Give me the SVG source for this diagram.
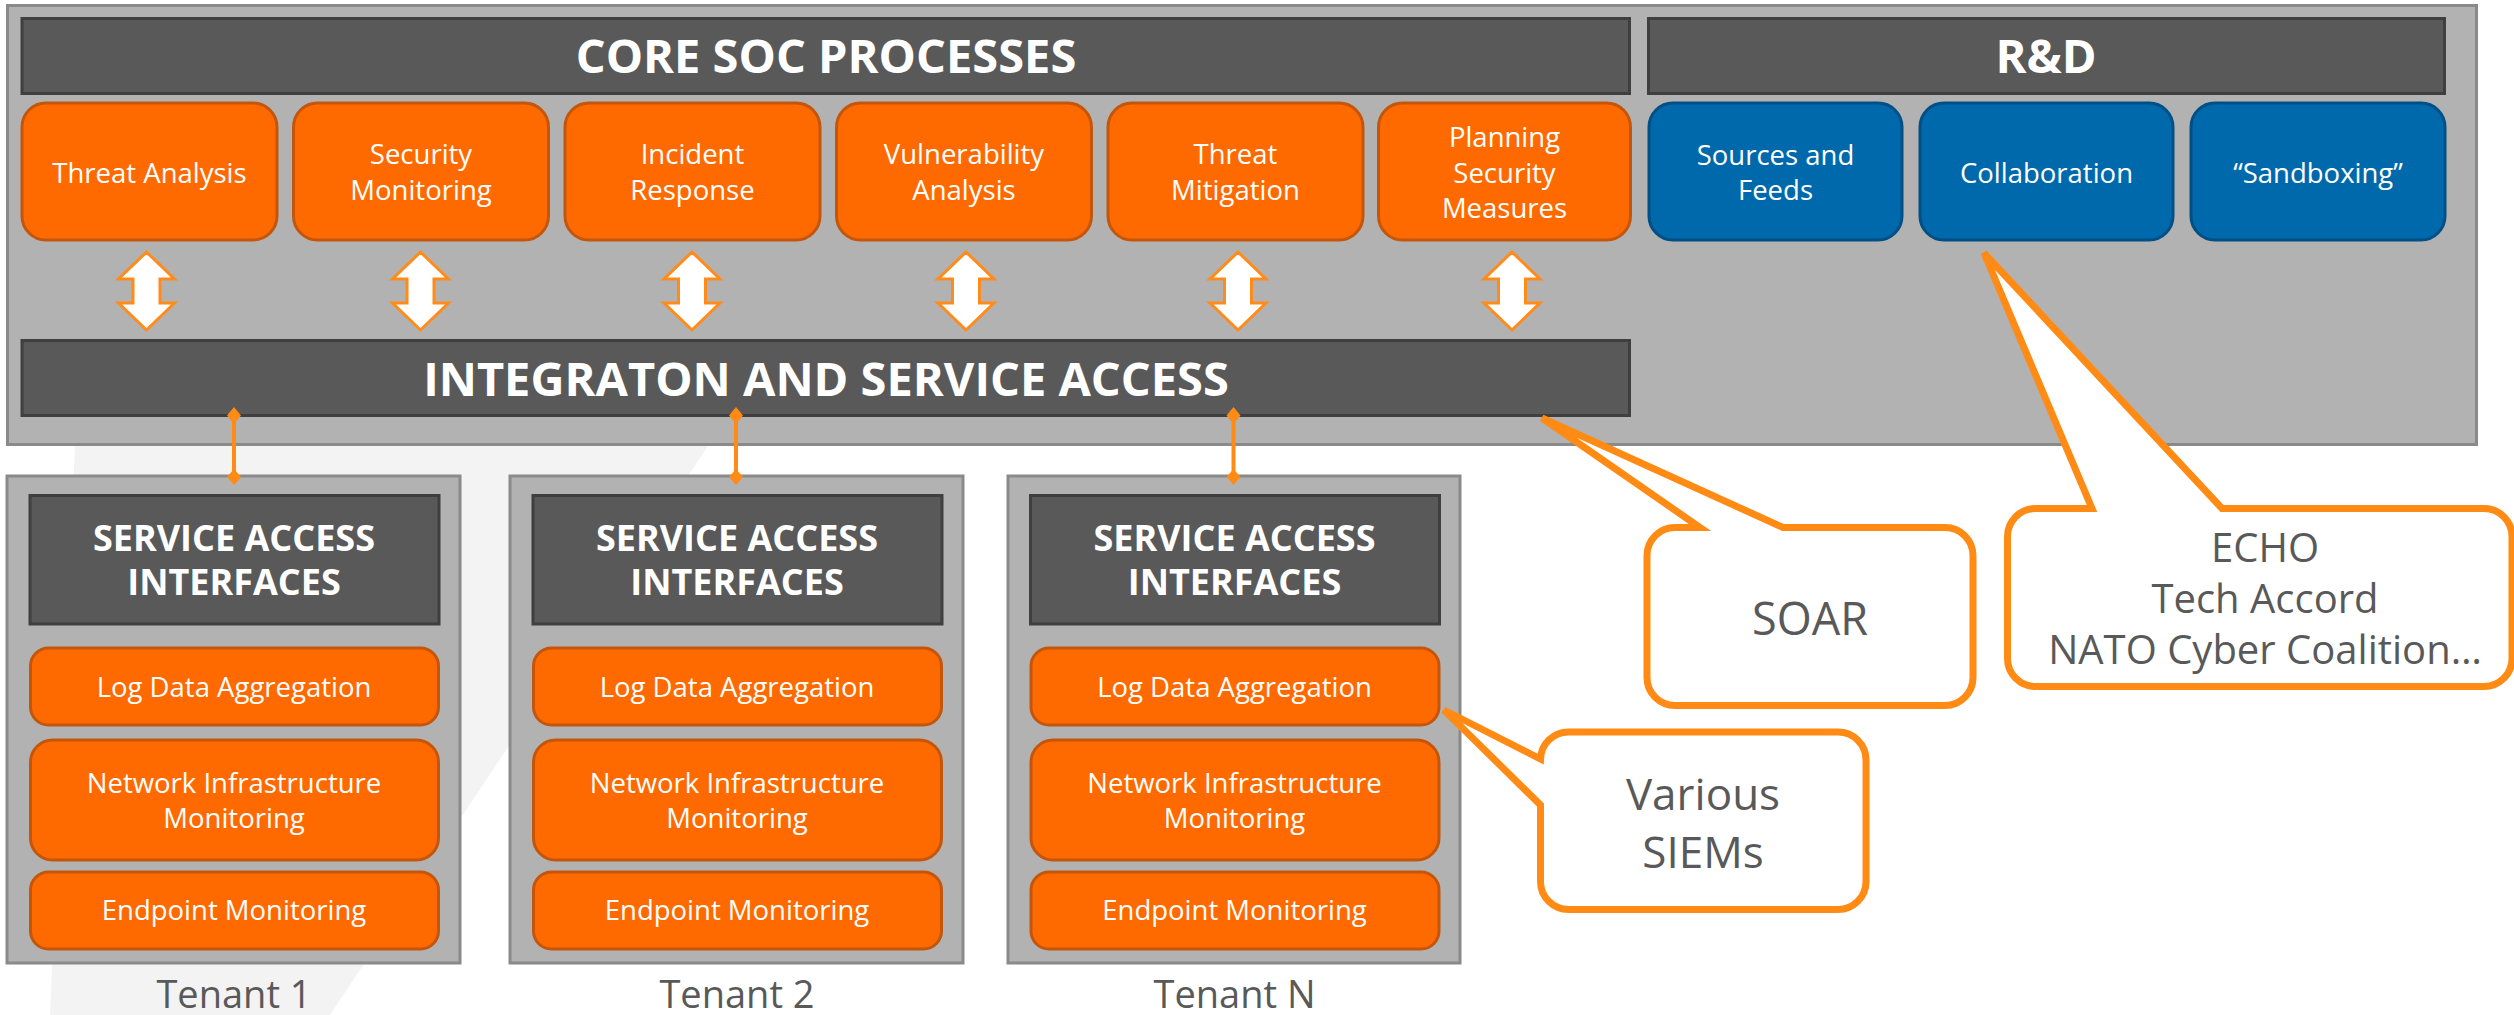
<svg xmlns="http://www.w3.org/2000/svg" xmlns:xlink="http://www.w3.org/1999/xlink" width="2514" height="1015" viewBox="0 0 2514 1015">
<defs>
<style>
.panel{fill:#b2b2b2;stroke:#8a8a8a;stroke-width:3}
.hdr{fill:#595959;stroke:#3f3f3f;stroke-width:3}
.org{fill:#ff6a00;stroke:#c4560c;stroke-width:3}
.blu{fill:#0069ab;stroke:#004f85;stroke-width:3}
.dbl{fill:#ffffff;stroke:#ff8c1a;stroke-width:3;stroke-linejoin:miter}
.call{fill:#ffffff;stroke:#ff8a14;stroke-width:7;stroke-linejoin:miter}
.conn{stroke:#ff8a14;stroke-width:4;fill:none}
.dia{fill:#ff8a14}
text{font-family:"Open Sans","Noto Sans","DejaVu Sans",sans-serif;text-anchor:middle}
.ht{font-weight:bold;font-size:47px;fill:#ffffff}
.th{font-weight:bold;font-size:36px;fill:#ffffff}
.bt{font-size:27.5px;fill:#ffffff}
.lbl{font-size:38px;fill:#595959}
.ct{fill:#595959}
</style>
<path id="dblarrow" d="M0,252 L28,279 L13.5,279 L13.5,303 L28,303 L0,330 L-28,303 L-13.5,303 L-13.5,279 L-28,279 Z"/>
</defs>
<rect width="2514" height="1015" fill="#ffffff"/>
<polygon points="75,446 708,446 330,1015 50,1015" fill="#f3f3f3"/>

<g id="soc-panel">
<rect class="panel" x="7.5" y="5.5" width="2469" height="439"/>
</g>
<g id="core-header">
<rect class="hdr" x="22" y="18.5" width="1607.5" height="75"/>
<text class="ht" x="826" y="73">CORE SOC PROCESSES</text>
</g>
<g id="rd-header">
<rect class="hdr" x="1648.5" y="18.5" width="796" height="75"/>
<text class="ht" x="2046" y="73">R&amp;D</text>
</g>

<g id="threat-analysis">
<rect class="org" x="22" y="103" width="255" height="137" rx="24"/>
<text class="bt" x="149.5" y="182.5">Threat Analysis</text>
</g>
<g id="security-monitoring">
<rect class="org" x="293.5" y="103" width="255" height="137" rx="24"/>
<text class="bt" x="421" y="164">Security</text>
<text class="bt" x="421" y="200">Monitoring</text>
</g>
<g id="incident-response">
<rect class="org" x="565" y="103" width="255" height="137" rx="24"/>
<text class="bt" x="692.5" y="164">Incident</text>
<text class="bt" x="692.5" y="200">Response</text>
</g>
<g id="vulnerability-analysis">
<rect class="org" x="836.5" y="103" width="255" height="137" rx="24"/>
<text class="bt" x="964" y="164">Vulnerability</text>
<text class="bt" x="964" y="200">Analysis</text>
</g>
<g id="threat-mitigation">
<rect class="org" x="1108" y="103" width="255" height="137" rx="24"/>
<text class="bt" x="1235.5" y="164">Threat</text>
<text class="bt" x="1235.5" y="200">Mitigation</text>
</g>
<g id="planning-security-measures">
<rect class="org" x="1378.5" y="103" width="252" height="137" rx="24"/>
<text class="bt" x="1504.5" y="146.5">Planning</text>
<text class="bt" x="1504.5" y="182.5">Security</text>
<text class="bt" x="1504.5" y="218">Measures</text>
</g>

<g id="sources-feeds">
<rect class="blu" x="1649" y="103" width="253" height="137" rx="24"/>
<text class="bt" x="1775.5" y="164.5">Sources and</text>
<text class="bt" x="1775.5" y="200">Feeds</text>
</g>
<g id="collaboration">
<rect class="blu" x="1920" y="103" width="253" height="137" rx="24"/>
<text class="bt" x="2046.5" y="182.5">Collaboration</text>
</g>
<g id="sandboxing">
<rect class="blu" x="2191" y="103" width="254" height="137" rx="24"/>
<text class="bt" x="2318" y="182.5">“Sandboxing”</text>
</g>

<g id="integration-bar">
<rect class="hdr" x="22" y="340.5" width="1607.5" height="75"/>
<text class="ht" x="826" y="396">INTEGRATON AND SERVICE ACCESS</text>
</g>

<g id="tenant-1">
<rect class="panel" x="7" y="476" width="453" height="487"/>
<rect class="hdr" x="30" y="495.5" width="409" height="128.5"/>
<text class="th" x="234" y="551">SERVICE ACCESS</text>
<text class="th" x="234" y="595">INTERFACES</text>
<rect class="org" x="30.5" y="648" width="408" height="77" rx="18"/>
<text class="bt" x="234" y="697">Log Data Aggregation</text>
<rect class="org" x="30.5" y="740" width="408" height="120" rx="22"/>
<text class="bt" x="234" y="793">Network Infrastructure</text>
<text class="bt" x="234" y="828">Monitoring</text>
<rect class="org" x="30.5" y="872" width="408" height="77" rx="18"/>
<text class="bt" x="234" y="920">Endpoint Monitoring</text>
<text class="lbl" x="234" y="1008">Tenant 1</text>
</g>
<g id="tenant-2">
<rect class="panel" x="510" y="476" width="453" height="487"/>
<rect class="hdr" x="533" y="495.5" width="409" height="128.5"/>
<text class="th" x="737" y="551">SERVICE ACCESS</text>
<text class="th" x="737" y="595">INTERFACES</text>
<rect class="org" x="533.5" y="648" width="408" height="77" rx="18"/>
<text class="bt" x="737" y="697">Log Data Aggregation</text>
<rect class="org" x="533.5" y="740" width="408" height="120" rx="22"/>
<text class="bt" x="737" y="793">Network Infrastructure</text>
<text class="bt" x="737" y="828">Monitoring</text>
<rect class="org" x="533.5" y="872" width="408" height="77" rx="18"/>
<text class="bt" x="737" y="920">Endpoint Monitoring</text>
<text class="lbl" x="737" y="1008">Tenant 2</text>
</g>
<g id="tenant-n">
<rect class="panel" x="1008" y="476" width="452" height="487"/>
<rect class="hdr" x="1030.5" y="495.5" width="409" height="128.5"/>
<text class="th" x="1234.5" y="551">SERVICE ACCESS</text>
<text class="th" x="1234.5" y="595">INTERFACES</text>
<rect class="org" x="1031" y="648" width="408" height="77" rx="18"/>
<text class="bt" x="1234.5" y="697">Log Data Aggregation</text>
<rect class="org" x="1031" y="740" width="408" height="120" rx="22"/>
<text class="bt" x="1234.5" y="793">Network Infrastructure</text>
<text class="bt" x="1234.5" y="828">Monitoring</text>
<rect class="org" x="1031" y="872" width="408" height="77" rx="18"/>
<text class="bt" x="1234.5" y="920">Endpoint Monitoring</text>
<text class="lbl" x="1234.5" y="1008">Tenant N</text>
</g>

<g id="connectors">
<use xlink:href="#dblarrow" class="dbl" transform="translate(146.5,0)"/>
<use xlink:href="#dblarrow" class="dbl" transform="translate(420.5,0)"/>
<use xlink:href="#dblarrow" class="dbl" transform="translate(692,0)"/>
<use xlink:href="#dblarrow" class="dbl" transform="translate(966,0)"/>
<use xlink:href="#dblarrow" class="dbl" transform="translate(1238,0)"/>
<use xlink:href="#dblarrow" class="dbl" transform="translate(1512,0)"/>
<line class="conn" x1="234" y1="417" x2="234" y2="476"/>
<polygon class="dia" points="234,407 241,415.5 234,424 227,415.5"/>
<polygon class="dia" points="234,469 241,477 234,485 227,477"/>
<line class="conn" x1="736" y1="417" x2="736" y2="476"/>
<polygon class="dia" points="736,407 743,415.5 736,424 729,415.5"/>
<polygon class="dia" points="736,469 743,477 736,485 729,477"/>
<line class="conn" x1="1233.5" y1="417" x2="1233.5" y2="476"/>
<polygon class="dia" points="1233.5,407 1240.5,415.5 1233.5,424 1226.5,415.5"/>
<polygon class="dia" points="1233.5,469 1240.5,477 1233.5,485 1226.5,477"/>
</g>

<g id="callout-soar">
<path class="call" d="M1675,527.5 H1700 L1542,418 L1783,527.5 H1945 A28,28 0 0 1 1973,555.5 V677.5 A28,28 0 0 1 1945,705.5 H1675 A28,28 0 0 1 1647,677.5 V555.5 A28,28 0 0 1 1675,527.5 Z"/>
<text class="ct" x="1810" y="635" font-size="45">SOAR</text>
</g>
<g id="callout-siems">
<path class="call" d="M1568.5,732 H1838 A28,28 0 0 1 1866,760 V881.5 A28,28 0 0 1 1838,909.5 H1568.5 A28,28 0 0 1 1540.5,881.5 V805 L1444,710 L1540.5,759 A28,28 0 0 1 1568.5,732 Z"/>
<text class="ct" x="1703" y="810" font-size="44">Various</text>
<text class="ct" x="1703" y="868" font-size="44">SIEMs</text>
</g>
<g id="callout-echo">
<path class="call" d="M2035.5,508.5 H2092 L1984,253 L2222,508.5 H2484 A28,28 0 0 1 2512,536.5 V658.5 A28,28 0 0 1 2484,686.5 H2035.5 A28,28 0 0 1 2007.5,658.5 V536.5 A28,28 0 0 1 2035.5,508.5 Z"/>
<text class="ct" x="2265" y="562" font-size="40">ECHO</text>
<text class="ct" x="2265" y="613" font-size="40">Tech Accord</text>
<text class="ct" x="2265" y="664" font-size="40">NATO Cyber Coalition…</text>
</g>
</svg>
